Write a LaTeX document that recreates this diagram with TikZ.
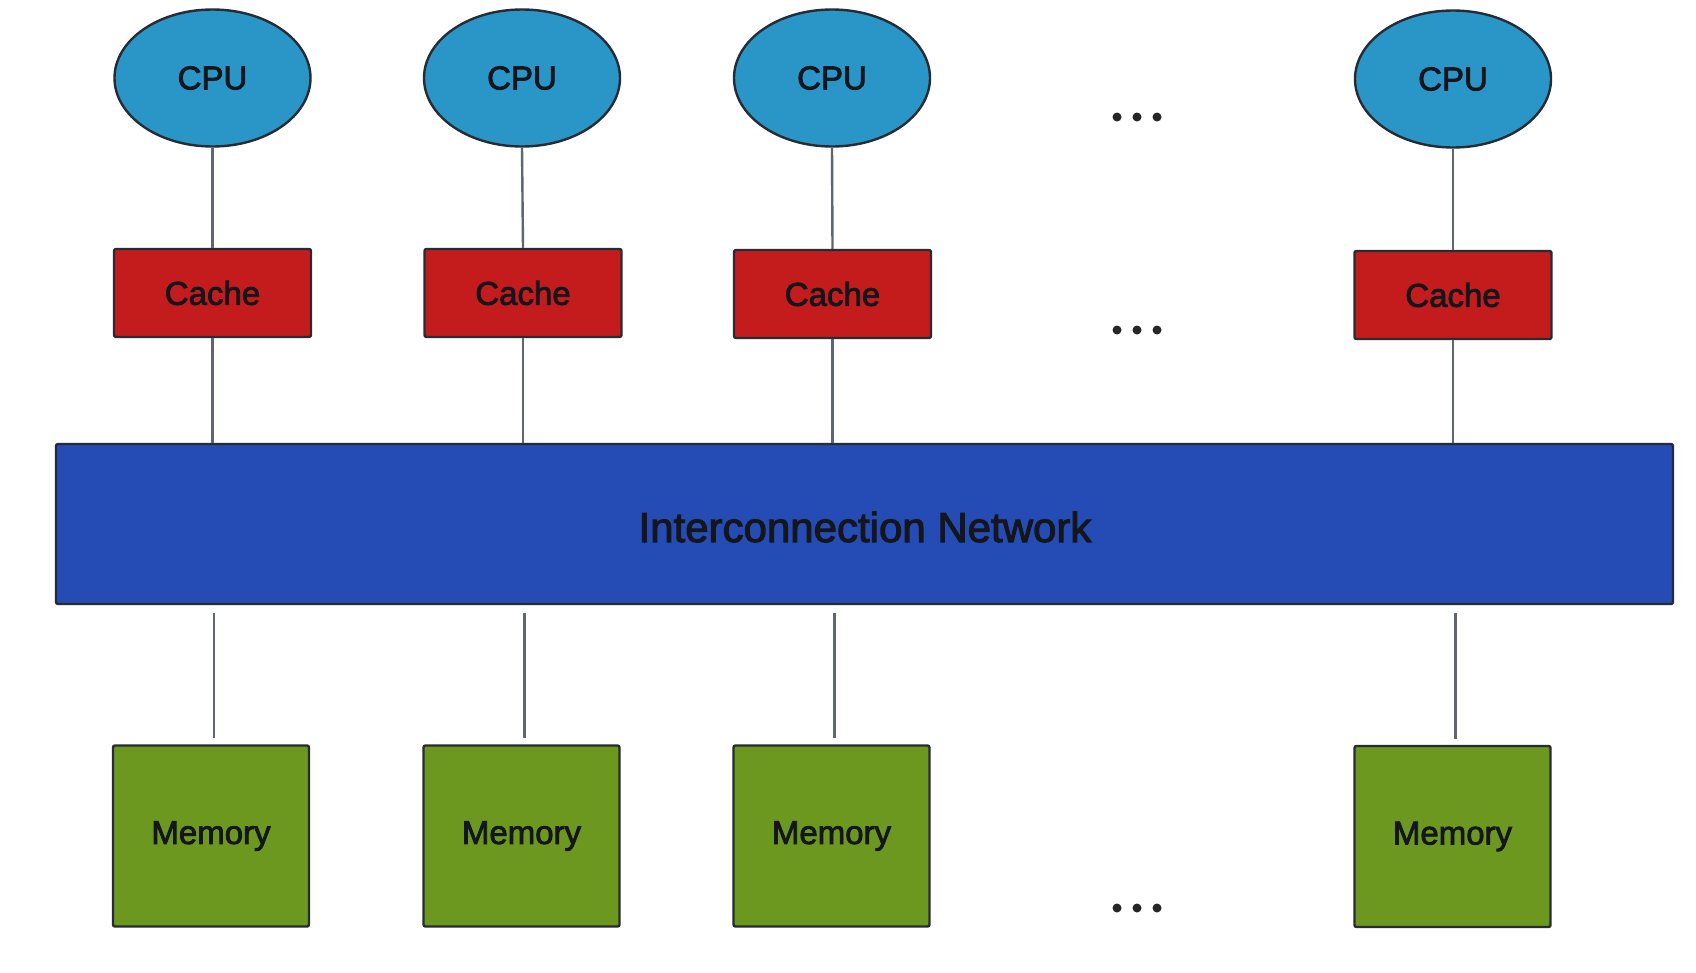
\documentclass[tikz,border=0pt]{standalone}
\usepackage{fontspec}
\setmainfont{Liberation Sans}
\newfontfamily\heavy{Liberation Sans}[FakeBold=2.5]
\usetikzlibrary{shapes.geometric}
\definecolor{cpufill}{RGB}{42,150,200}
\definecolor{cachefill}{RGB}{196,28,28}
\definecolor{netfill}{RGB}{36,76,180}
\definecolor{memfill}{RGB}{108,152,32}
\definecolor{edgecol}{RGB}{38,44,52}
\definecolor{linkcol}{RGB}{95,102,112}
\definecolor{txt}{RGB}{20,22,28}
\tikzset{
  lbl/.style={font=\heavy\fontsize{33}{36}\selectfont, text=txt},
  cpu/.style={ellipse, draw=edgecol, line width=2.4pt, fill=cpufill, minimum width=196pt, minimum height=137pt, inner sep=0pt, lbl},
  cachebox/.style={rectangle, rounded corners=2pt, draw=edgecol, line width=2.4pt, fill=cachefill, minimum width=197pt, minimum height=88pt, inner sep=0pt, lbl},
  membox/.style={rectangle, rounded corners=2pt, draw=edgecol, line width=2.4pt, fill=memfill, minimum width=196pt, minimum height=181pt, inner sep=0pt, lbl},
  netbox/.style={rectangle, rounded corners=2pt, draw=edgecol, line width=2.4pt, fill=netfill, minimum width=1617pt, minimum height=160pt, inner sep=0pt},
  link/.style={draw=linkcol, line width=2.4pt},
  dotmark/.style={circle, fill=black!85, minimum size=9pt, inner sep=0pt}
}
\begin{document}
\begin{tikzpicture}[x=1pt,y=-1pt]
\fill[white] (0,0) rectangle (1696,972);
\useasboundingbox (0,0) rectangle (1696,972);
% CPUs
\node[cpu] (cpu1) at (212.5,78) {\raisebox{-4pt}{CPU}};
\node[cpu] (cpu2) at (522,78) {\raisebox{-4pt}{CPU}};
\node[cpu] (cpu3) at (832,78) {\raisebox{-4pt}{CPU}};
\node[cpu] (cpu4) at (1453,79) {\raisebox{-4pt}{CPU}};
% caches
\node[cachebox] (c1) at (212.5,293) {\raisebox{-4pt}{Cache}};
\node[cachebox] (c2) at (523,293) {\raisebox{-4pt}{Cache}};
\node[cachebox] (c3) at (832.5,294) {\raisebox{-4pt}{Cache}};
\node[cachebox] (c4) at (1453,295) {\raisebox{-4pt}{Cache}};
% network
\node[netbox] (net) at (864.5,524) {};
\node[font=\heavy\fontsize{42}{46}\selectfont, text=txt] (netlabel) at (865,527) {Interconnection Network};
% memories
\node[membox] (m1) at (211,836) {\raisebox{-6pt}{Memory}};
\node[membox] (m2) at (521.5,836) {\raisebox{-6pt}{Memory}};
\node[membox] (m3) at (831.5,836) {\raisebox{-6pt}{Memory}};
\node[membox] (m4) at (1452.5,836.5) {\raisebox{-6pt}{Memory}};
% dots
\foreach \y/\n in {117/a,330/b,908/c}{
  \node[dotmark] (dot\n1) at (1117,\y) {};
  \node[dotmark] (dot\n2) at (1137,\y) {};
  \node[dotmark] (dot\n3) at (1157,\y) {};
}
% CPU-cache links
\foreach \i in {1,2,3,4}{
  \draw[link] (cpu\i.south) -- (c\i.north);
  \draw[link] (c\i.south) -- (c\i.south |- net.north);
}
% network-memory links (with gaps)
\foreach \i in {1,2,3,4}{
  \coordinate (top\i) at ([xshift=3pt,yshift=-8pt]m\i.north |- net.south);
  \coordinate (bot\i) at ([xshift=3pt,yshift=6pt]m\i.north);
  \draw[link] (top\i) -- (bot\i);
}
\end{tikzpicture}
\end{document}
